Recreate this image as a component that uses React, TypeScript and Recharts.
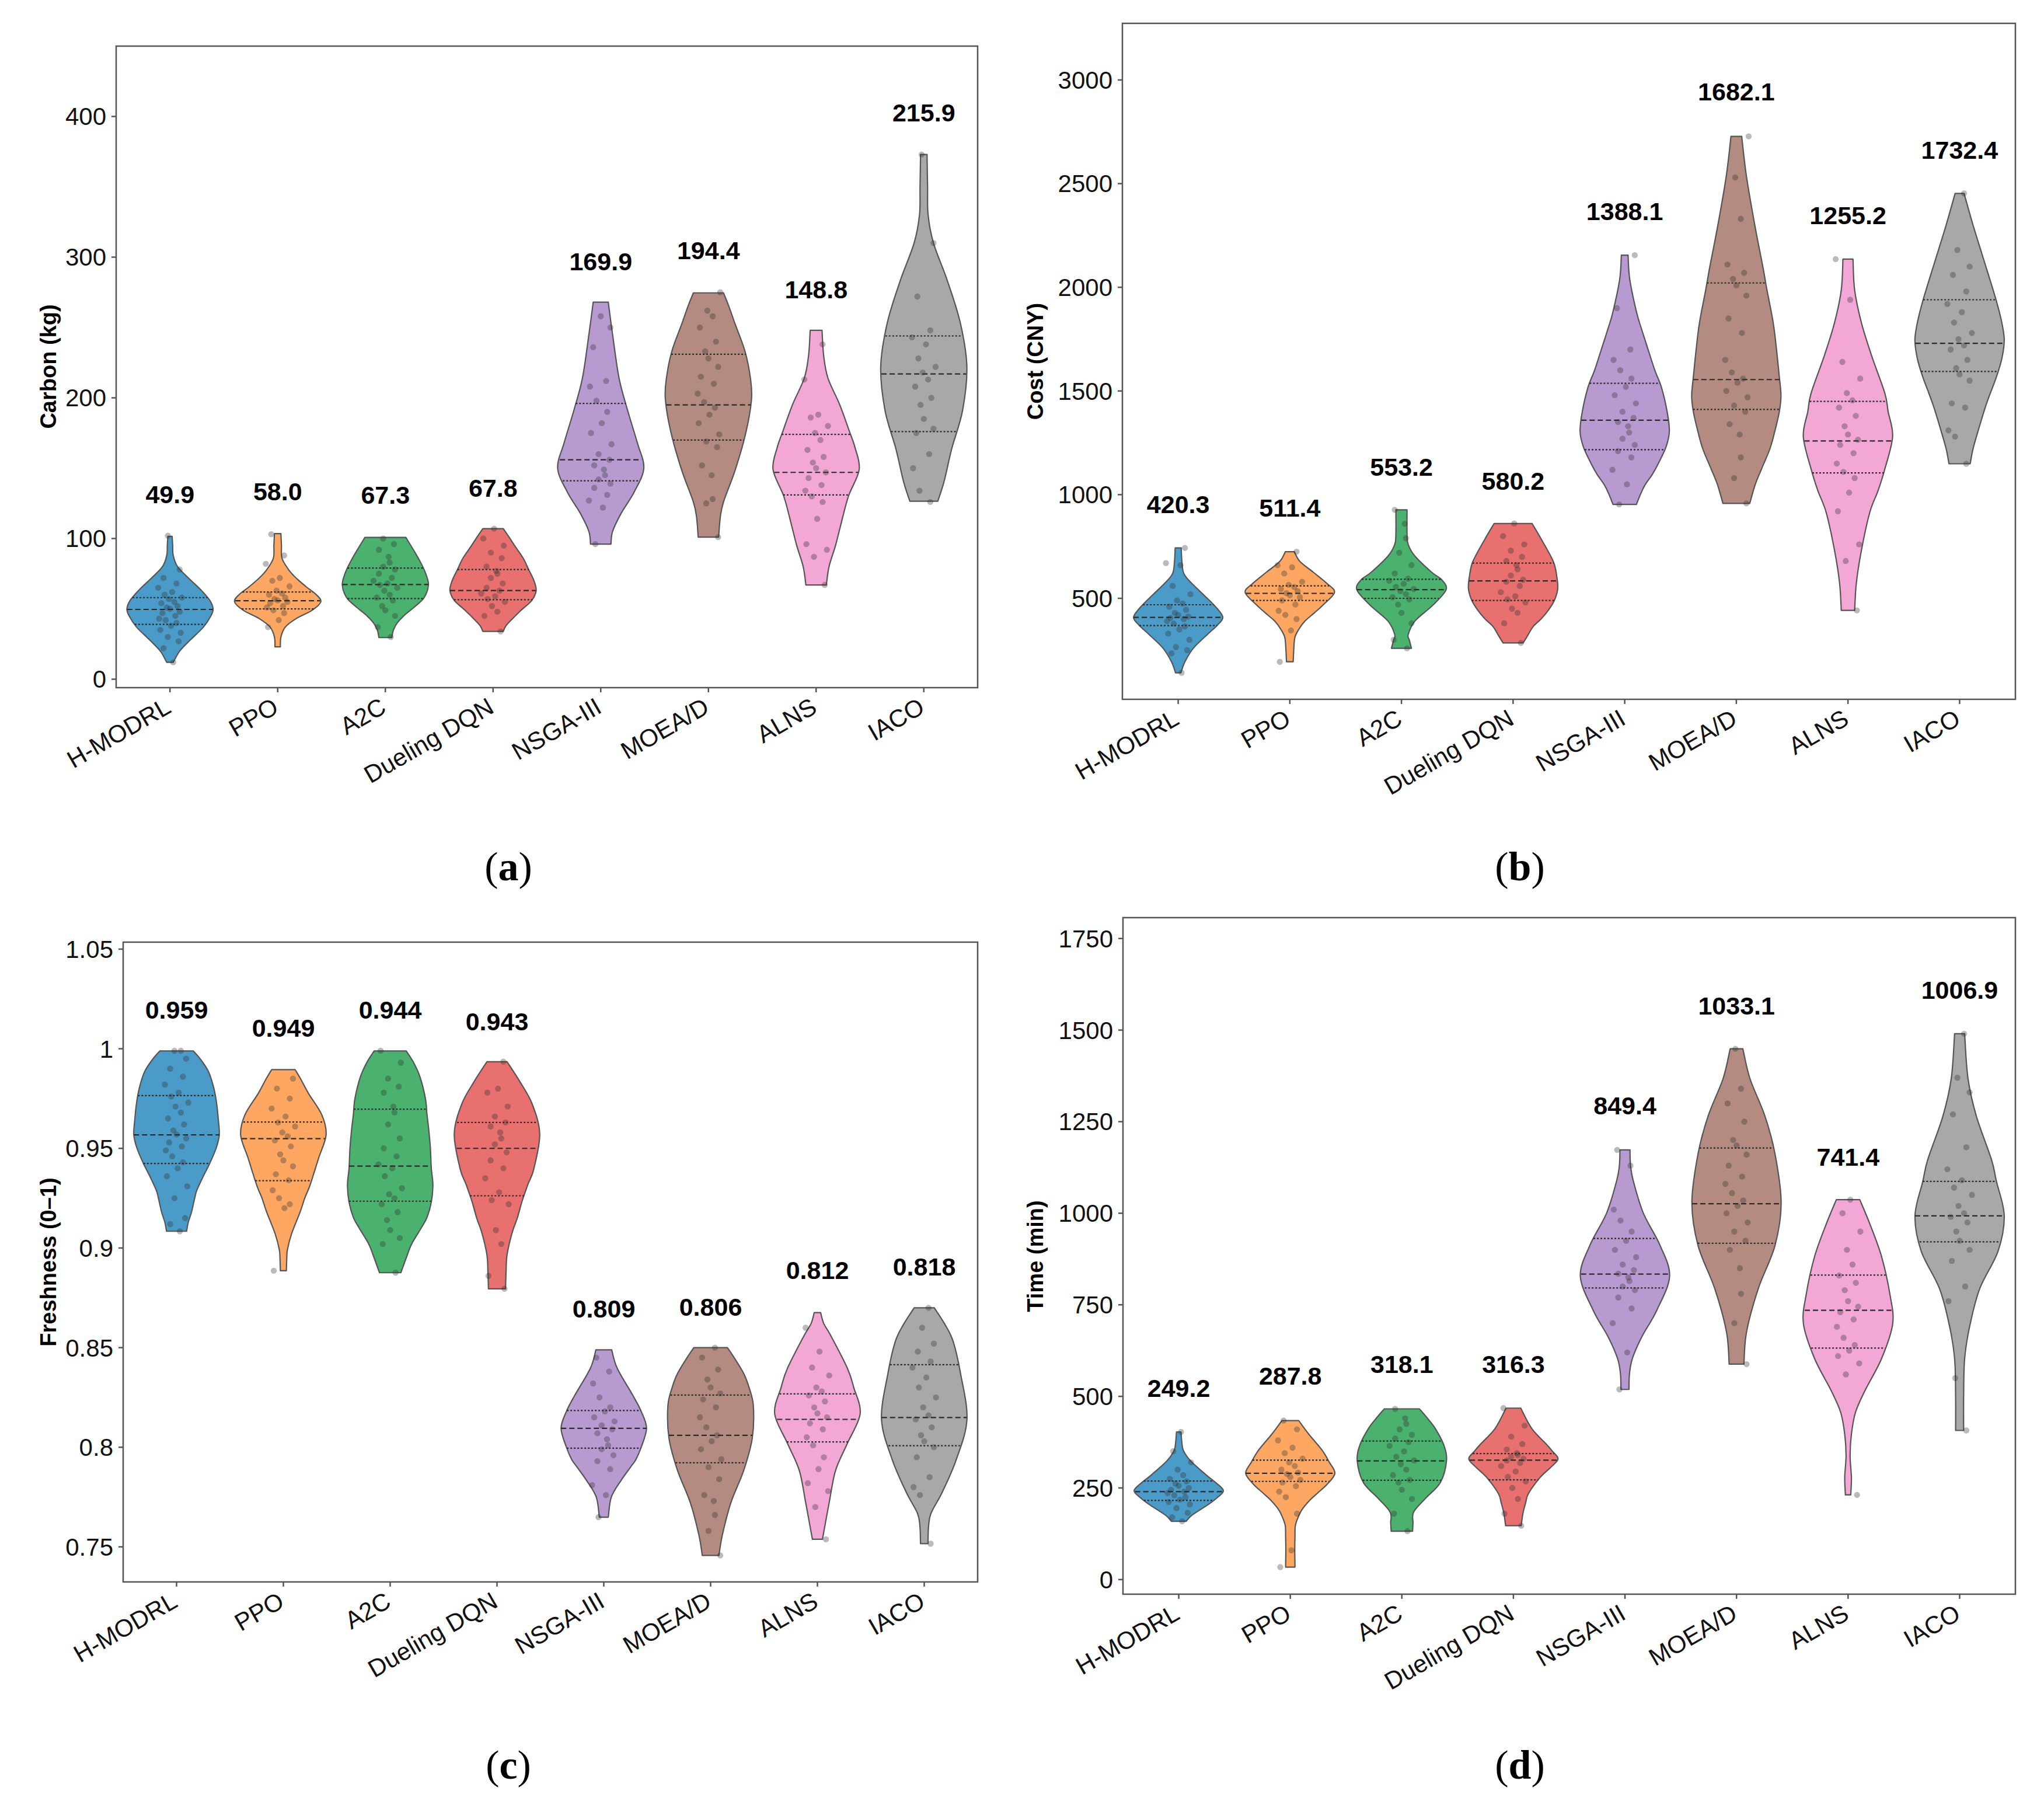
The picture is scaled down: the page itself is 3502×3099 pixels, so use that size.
import React from 'react'
import { ScatterChart, Scatter, XAxis, YAxis, ReferenceArea } from 'recharts'

const CATEGORIES = ['H-MODRL', 'PPO', 'A2C', 'Dueling DQN', 'NSGA-III', 'MOEA/D', 'ALNS', 'IACO']
const COLORS = ['#4b9bc8', '#fda762', '#4ab26e', '#e8706f', '#b79ad0', '#b48b80', '#f2a7d4', '#a8a8a8']
const X_TICKS = [0, 1, 2, 3, 4, 5, 6, 7]

// fixed strip-plot offsets (category units), reused per violin
const JITTER = [0.03, -0.06, 0.08, -0.02, 0.1, -0.09, 0.01, 0.06, -0.04, -0.1, 0.05, -0.07, 0.09, 0.0,
  -0.03, 0.07, -0.08, 0.04, -0.01, 0.11, -0.05, 0.02, -0.11, 0.06, -0.06, 0.09, -0.02, 0.04]

// ---------- (a) carbon ----------
const carbonTicks = [0, 100, 200, 300, 400]
const carbonDomain = [-6, 450]
// [value, half width] from bottom to top
const carbonProfiles = [
  [[12, 0.03], [20, 0.09], [28, 0.19], [37, 0.31], [45, 0.38], [50, 0.4], [56, 0.37], [64, 0.28], [72, 0.17], [80, 0.07], [88, 0.03], [95, 0.025], [101.5, 0.02]],
  [[23, 0.025], [30, 0.03], [37, 0.07], [43, 0.17], [49, 0.32], [55, 0.4], [60, 0.36], [66, 0.26], [72, 0.17], [78, 0.1], [86, 0.04], [95, 0.035], [103.5, 0.03]],
  [[29.6, 0.06], [35, 0.075], [40, 0.11], [45, 0.17], [52, 0.28], [58, 0.36], [67, 0.4], [76, 0.37], [84, 0.32], [92, 0.26], [100.8, 0.19]],
  [[34, 0.095], [38, 0.12], [43, 0.18], [49, 0.26], [56, 0.36], [63, 0.4], [70, 0.38], [78, 0.33], [86, 0.28], [95, 0.2], [102, 0.14], [107, 0.095]],
  [[96, 0.095], [105, 0.11], [118, 0.19], [133, 0.31], [150, 0.4], [168, 0.34], [191, 0.25], [214, 0.17], [245, 0.11], [268, 0.07]],
  [[101, 0.095], [115, 0.11], [126, 0.14], [149, 0.25], [176, 0.35], [199, 0.4], [214, 0.39], [233, 0.34], [252, 0.25], [265, 0.19], [274.6, 0.14]],
  [[67, 0.095], [80, 0.12], [95, 0.18], [110, 0.23], [130, 0.3], [149, 0.4], [165, 0.36], [176, 0.31], [195, 0.22], [214, 0.11], [230, 0.07], [248, 0.055]],
  [[126.5, 0.13], [141, 0.19], [164, 0.26], [191, 0.36], [222, 0.4], [253, 0.34], [283, 0.22], [310, 0.09], [330, 0.04], [350, 0.035], [373, 0.03]],
]
const carbonQuartiles = [[39, 49.6, 58], [50, 55.8, 62], [57.3, 67.3, 79], [56.5, 63, 78], [141, 156, 196], [170, 195, 231], [131, 147, 174], [176, 217, 244]]
const carbonMeans = ['49.9', '58.0', '67.3', '67.8', '169.9', '194.4', '148.8', '215.9']
const carbonLabelY = [131.5, 133.5, 130.8, 136, 297, 304.6, 277, 402.7]
const carbonPoints = [
  [12, 22, 27, 30, 33, 35, 38, 40, 42, 43, 45, 47, 48, 50, 51, 52, 54, 55, 57, 58, 60, 62, 65, 68, 72, 78, 102],
  [37, 42, 47, 49, 51, 52, 54, 55, 56, 57, 58, 60, 61, 63, 66, 70, 72, 82, 88, 103],
  [30, 37, 45, 49, 52, 56, 58, 60, 63, 65, 67, 68, 70, 72, 75, 78, 80, 83, 87, 92, 96, 100],
  [34, 45, 48, 52, 55, 57, 59, 61, 63, 65, 68, 72, 75, 77, 80, 86, 90, 95, 100, 107],
  [96, 122, 127, 131, 136, 139, 142, 145, 149, 152, 156, 160, 167, 175, 182, 190, 198, 208, 212, 236, 250, 258],
  [101, 125, 128, 145, 152, 165, 169, 174, 182, 188, 193, 197, 203, 210, 215, 222, 228, 233, 240, 250, 258, 262, 275],
  [67, 87, 92, 96, 114, 126, 130, 134, 138, 143, 147, 150, 154, 158, 163, 170, 175, 180, 186, 188, 213, 238],
  [126, 134, 150, 160, 175, 178, 185, 195, 200, 208, 213, 218, 222, 228, 238, 243, 248, 272, 310, 373],
]

// ---------- (b) cost ----------
const costTicks = [500, 1000, 1500, 2000, 2500, 3000]
const costDomain = [13, 3273]
const costProfiles = [
  [[141, 0.024], [194, 0.06], [259, 0.135], [325, 0.26], [370, 0.35], [408, 0.4], [450, 0.35], [495, 0.27], [573, 0.12], [620, 0.05], [680, 0.033], [743, 0.027]],
  [[194, 0.03], [250, 0.035], [311, 0.045], [350, 0.08], [390, 0.135], [430, 0.22], [469, 0.3], [529, 0.4], [573, 0.33], [626, 0.21], [678, 0.09], [725, 0.04]],
  [[259, 0.09], [300, 0.07], [325, 0.06], [390, 0.12], [469, 0.285], [542, 0.4], [590, 0.36], [626, 0.27], [704, 0.12], [760, 0.06], [809, 0.05], [927, 0.05]],
  [[285, 0.09], [320, 0.13], [364, 0.18], [400, 0.25], [442, 0.315], [490, 0.37], [547, 0.4], [610, 0.39], [678, 0.36], [783, 0.255], [861, 0.17]],
  [[953, 0.105], [1000, 0.14], [1045, 0.18], [1100, 0.25], [1149, 0.3], [1230, 0.37], [1306, 0.4], [1400, 0.38], [1516, 0.33], [1600, 0.27], [1699, 0.21], [1800, 0.15], [1882, 0.105], [2039, 0.045], [2155, 0.03]],
  [[958, 0.12], [1050, 0.17], [1123, 0.225], [1220, 0.3], [1306, 0.345], [1400, 0.385], [1477, 0.4], [1568, 0.385], [1700, 0.36], [1830, 0.33], [2000, 0.27], [2092, 0.24], [2301, 0.165], [2537, 0.09], [2728, 0.048]],
  [[442, 0.06], [573, 0.075], [730, 0.12], [914, 0.195], [1020, 0.27], [1123, 0.33], [1280, 0.4], [1400, 0.36], [1490, 0.33], [1673, 0.21], [1830, 0.12], [1987, 0.06], [2136, 0.045]],
  [[1149, 0.095], [1220, 0.12], [1306, 0.165], [1437, 0.24], [1568, 0.33], [1660, 0.38], [1751, 0.4], [1850, 0.37], [1961, 0.315], [2144, 0.21], [2301, 0.12], [2453, 0.04]],
]
const costQuartiles = [[369, 408, 469], [490, 524, 560], [500, 542, 592], [490, 584, 670], [1217, 1359, 1537], [1411, 1555, 2021], [1105, 1259, 1450], [1594, 1730, 1940]]
const costMeans = ['420.3', '511.4', '553.2', '580.2', '1388.1', '1682.1', '1255.2', '1732.4']
const costLabelY = [953, 935, 1134, 1065, 2367, 2943, 2348, 2662]
const costPoints = [
  [141, 235, 250, 265, 300, 330, 350, 365, 378, 390, 400, 405, 412, 420, 430, 445, 460, 475, 490, 520, 560, 660, 670, 743],
  [194, 345, 400, 420, 440, 470, 490, 505, 515, 525, 535, 545, 555, 565, 580, 620, 650, 660, 725],
  [259, 300, 380, 430, 470, 495, 505, 520, 535, 545, 555, 570, 585, 595, 620, 660, 720, 790, 860, 927],
  [285, 380, 430, 450, 480, 495, 510, 530, 560, 580, 590, 610, 640, 660, 680, 700, 730, 760, 800, 861],
  [953, 1050, 1120, 1180, 1210, 1240, 1270, 1300, 1330, 1350, 1370, 1400, 1440, 1480, 1520, 1560, 1600, 1650, 1700, 1900, 2155],
  [958, 1080, 1180, 1290, 1340, 1400, 1430, 1470, 1500, 1540, 1560, 1590, 1650, 1780, 1850, 1960, 2010, 2040, 2070, 2110, 2330, 2530, 2728],
  [442, 680, 760, 920, 1010, 1080, 1110, 1150, 1200, 1240, 1265, 1290, 1330, 1380, 1420, 1455, 1490, 1560, 1640, 1940, 2136],
  [1149, 1280, 1310, 1420, 1440, 1550, 1580, 1610, 1650, 1700, 1720, 1750, 1780, 1830, 1880, 1920, 1980, 2060, 2100, 2180, 2453],
]

// ---------- (c) freshness ----------
const freshTicks = [0.75, 0.8, 0.85, 0.9, 0.95, 1, 1.05]
const freshDomain = [0.7324, 1.0535]
const freshProfiles = [
  [[0.9084, 0.094], [0.913, 0.11], [0.918, 0.14], [0.925, 0.17], [0.929, 0.19], [0.936, 0.25], [0.9424, 0.31], [0.95, 0.37], [0.9568, 0.4], [0.965, 0.39], [0.9722, 0.376], [0.98, 0.35], [0.9884, 0.3], [0.995, 0.22], [0.9989, 0.157]],
  [[0.8886, 0.028], [0.895, 0.032], [0.8992, 0.038], [0.9073, 0.078], [0.9181, 0.157], [0.925, 0.2], [0.9316, 0.25], [0.9451, 0.33], [0.9568, 0.4], [0.9668, 0.36], [0.9776, 0.235], [0.985, 0.16], [0.9895, 0.11]],
  [[0.8876, 0.1], [0.895, 0.15], [0.9019, 0.2], [0.91, 0.29], [0.9154, 0.345], [0.923, 0.385], [0.9316, 0.4], [0.94, 0.385], [0.9505, 0.376], [0.96, 0.36], [0.9668, 0.345], [0.975, 0.33], [0.9857, 0.28], [0.993, 0.22], [0.9989, 0.15]],
  [[0.8795, 0.08], [0.888, 0.085], [0.8965, 0.094], [0.9073, 0.14], [0.915, 0.19], [0.9235, 0.235], [0.932, 0.29], [0.9397, 0.345], [0.9573, 0.4], [0.9722, 0.33], [0.983, 0.22], [0.9935, 0.094]],
  [[0.7649, 0.042], [0.7749, 0.07], [0.783, 0.157], [0.79, 0.25], [0.7938, 0.3], [0.8, 0.35], [0.8095, 0.4], [0.818, 0.35], [0.8262, 0.27], [0.8397, 0.125], [0.8489, 0.074]],
  [[0.7457, 0.078], [0.756, 0.11], [0.7722, 0.19], [0.7884, 0.31], [0.8046, 0.39], [0.8208, 0.4], [0.83, 0.36], [0.837, 0.31], [0.845, 0.22], [0.85, 0.157]],
  [[0.7538, 0.047], [0.7722, 0.11], [0.7884, 0.17], [0.8019, 0.28], [0.8168, 0.4], [0.83, 0.34], [0.8397, 0.28], [0.856, 0.125], [0.862, 0.06], [0.8676, 0.03]],
  [[0.7516, 0.035], [0.76, 0.04], [0.7668, 0.063], [0.7776, 0.17], [0.7938, 0.3], [0.814, 0.4], [0.837, 0.34], [0.8532, 0.27], [0.862, 0.19], [0.87, 0.094]],
]
const freshQuartiles = [[0.9424, 0.9568, 0.9765], [0.9338, 0.9549, 0.9632], [0.9235, 0.9411, 0.9697], [0.9262, 0.95, 0.963], [0.7995, 0.8095, 0.8184], [0.7922, 0.806, 0.8262], [0.8027, 0.814, 0.8268], [0.8008, 0.8149, 0.8414]]
const freshMeans = ['0.959', '0.949', '0.944', '0.943', '0.809', '0.806', '0.812', '0.818']
const freshLabelY = [1.0195, 1.0105, 1.0195, 1.0138, 0.8695, 0.8703, 0.8889, 0.8905]
const freshPoints = [
  [0.9084, 0.912, 0.915, 0.925, 0.931, 0.936, 0.94, 0.943, 0.946, 0.949, 0.951, 0.953, 0.955, 0.957, 0.959, 0.962, 0.965, 0.968, 0.971, 0.973, 0.976, 0.978, 0.982, 0.986, 0.99, 0.995, 0.999, 0.999],
  [0.8886, 0.92, 0.922, 0.925, 0.929, 0.934, 0.937, 0.941, 0.944, 0.947, 0.951, 0.954, 0.956, 0.958, 0.961, 0.963, 0.966, 0.97, 0.975, 0.98, 0.985],
  [0.8876, 0.902, 0.905, 0.909, 0.914, 0.918, 0.922, 0.925, 0.927, 0.93, 0.936, 0.94, 0.942, 0.946, 0.95, 0.955, 0.962, 0.968, 0.971, 0.978, 0.981, 0.985, 0.993, 0.999],
  [0.8795, 0.886, 0.902, 0.909, 0.922, 0.924, 0.928, 0.935, 0.94, 0.944, 0.948, 0.952, 0.955, 0.958, 0.961, 0.963, 0.966, 0.971, 0.978, 0.98, 0.9935],
  [0.7649, 0.776, 0.781, 0.789, 0.793, 0.796, 0.799, 0.801, 0.804, 0.807, 0.809, 0.811, 0.813, 0.815, 0.818, 0.82, 0.825, 0.832, 0.838, 0.845],
  [0.7457, 0.758, 0.766, 0.773, 0.776, 0.784, 0.79, 0.794, 0.799, 0.803, 0.806, 0.81, 0.815, 0.82, 0.824, 0.827, 0.83, 0.834, 0.839, 0.845, 0.85],
  [0.7538, 0.77, 0.778, 0.782, 0.789, 0.795, 0.801, 0.805, 0.809, 0.812, 0.815, 0.817, 0.82, 0.823, 0.826, 0.828, 0.83, 0.836, 0.84, 0.848, 0.86],
  [0.7516, 0.776, 0.78, 0.785, 0.795, 0.8, 0.803, 0.806, 0.81, 0.814, 0.816, 0.82, 0.825, 0.83, 0.835, 0.84, 0.843, 0.848, 0.852, 0.86, 0.87],
]

// ---------- (d) time ----------
const timeTicks = [0, 250, 500, 750, 1000, 1250, 1500, 1750]
const timeDomain = [-40, 1807]
const timeProfiles = [
  [[159, 0.066], [176, 0.12], [206, 0.27], [225, 0.35], [243, 0.4], [265, 0.33], [287, 0.24], [324, 0.105], [350, 0.045], [368, 0.03], [403, 0.02]],
  [[34, 0.042], [80, 0.04], [120, 0.042], [147, 0.045], [170, 0.07], [191, 0.105], [215, 0.17], [235, 0.24], [260, 0.33], [290, 0.4], [320, 0.35], [353, 0.285], [397, 0.165], [434, 0.075]],
  [[132, 0.096], [155, 0.1], [184, 0.105], [221, 0.21], [265, 0.345], [324, 0.4], [368, 0.375], [412, 0.3], [440, 0.23], [466, 0.157]],
  [[147, 0.07], [180, 0.085], [210, 0.11], [235, 0.135], [279, 0.24], [305, 0.33], [329, 0.4], [350, 0.35], [368, 0.3], [412, 0.165], [468, 0.066]],
  [[519, 0.036], [560, 0.04], [603, 0.066], [662, 0.15], [735, 0.285], [828, 0.4], [912, 0.315], [1000, 0.165], [1088, 0.075], [1130, 0.05], [1173, 0.045]],
  [[588, 0.066], [676, 0.09], [794, 0.195], [912, 0.345], [1029, 0.4], [1162, 0.345], [1265, 0.255], [1368, 0.12], [1449, 0.057]],
  [[231, 0.024], [279, 0.03], [338, 0.018], [397, 0.03], [456, 0.066], [515, 0.15], [603, 0.3], [698, 0.4], [779, 0.375], [882, 0.3], [971, 0.195], [1037, 0.105]],
  [[407, 0.036], [500, 0.036], [603, 0.045], [691, 0.09], [794, 0.18], [897, 0.345], [993, 0.4], [1087, 0.33], [1147, 0.285], [1265, 0.15], [1368, 0.075], [1490, 0.045]],
]
const timeQuartiles = [[216, 240, 269], [268, 290, 326], [271, 324, 378], [272, 326, 344], [796, 834, 931], [918, 1026, 1178], [632, 735, 831], [922, 993, 1087]]
const timeMeans = ['249.2', '287.8', '318.1', '316.3', '849.4', '1033.1', '741.4', '1006.9']
const timeLabelY = [522, 556, 588, 588, 1294, 1566, 1154, 1609]
const timePoints = [
  [159, 170, 182, 195, 205, 212, 218, 225, 230, 236, 240, 245, 250, 256, 262, 268, 275, 285, 300, 320, 350, 403],
  [34, 80, 180, 225, 240, 255, 265, 272, 280, 288, 292, 300, 310, 320, 330, 345, 360, 380, 410, 434],
  [132, 180, 220, 245, 265, 272, 285, 300, 315, 325, 335, 350, 365, 375, 385, 395, 410, 425, 440, 466],
  [147, 180, 220, 250, 268, 280, 295, 310, 318, 325, 330, 335, 340, 345, 355, 370, 390, 420, 468],
  [519, 620, 700, 740, 770, 790, 800, 815, 825, 835, 845, 860, 880, 900, 925, 950, 980, 1010, 1130, 1173],
  [588, 700, 780, 850, 900, 925, 950, 975, 1000, 1020, 1035, 1055, 1080, 1100, 1130, 1160, 1185, 1200, 1250, 1300, 1340, 1449],
  [231, 560, 590, 610, 625, 640, 660, 690, 710, 730, 745, 760, 790, 810, 830, 860, 900, 950, 1000, 1037],
  [407, 550, 760, 800, 870, 900, 925, 950, 975, 990, 1000, 1020, 1050, 1070, 1090, 1120, 1180, 1270, 1330, 1370, 1490],
]

const SANS = '"Liberation Sans", Arial, Helvetica, sans-serif'
const SERIF = '"Liberation Serif", "Times New Roman", serif'

function halfWidthAt(profile: number[][], v: number) {
  for (let k = 0; k < profile.length - 1; k++) {
    const [v0, w0] = profile[k]
    const [v1, w1] = profile[k + 1]
    if (v >= v0 && v <= v1) return w0 + ((w1 - w0) * (v - v0)) / (v1 - v0)
  }
  return profile[0][1]
}

function catmull(pts: { x: number; y: number }[]) {
  let d = ''
  for (let i = 0; i < pts.length - 1; i++) {
    const p0 = pts[i - 1] || pts[i]
    const p1 = pts[i]
    const p2 = pts[i + 1]
    const p3 = pts[i + 2] || p2
    const c1x = p1.x + (p2.x - p0.x) / 6
    const c1y = p1.y + (p2.y - p0.y) / 6
    const c2x = p2.x - (p3.x - p1.x) / 6
    const c2y = p2.y - (p3.y - p1.y) / 6
    d += ` C${c1x},${c1y} ${c2x},${c2y} ${p2.x},${p2.y}`
  }
  return d
}

const violinLine = (fill: string) => (props: any) => {
  const pts = props.points as { x: number; y: number }[]
  const n = pts.length / 2
  const right = pts.slice(0, n)
  const left = pts.slice(n)
  const d = `M${right[0].x},${right[0].y}` + catmull(right) + ` L${left[0].x},${left[0].y}` + catmull(left) + ' Z'
  return <path d={d} fill={fill} stroke="#555" strokeWidth={2.2} strokeLinejoin="round" />
}

const hidden = () => <g />

const dotShape = (p: any) => <circle cx={p.cx} cy={p.cy} r={5.2} fill="#2e2e2e" fillOpacity={0.33} />

const labelShape = (p: any) => (
  <text x={p.cx} y={p.cy} textAnchor="middle" dominantBaseline="central" fontFamily={SANS} fontWeight={700} fontSize={43} fill="#000">
    {p.payload.t}
  </text>
)

const XTick = (p: any) => {
  const ax = p.x - 11
  const ay = p.y + 5
  return (
    <text x={ax} y={ay} dy="0.72em" transform={`rotate(-30 ${ax} ${ay})`} textAnchor="end" fontFamily={SANS} fontSize={42} fill="#111">
      {CATEGORIES[p.payload.value]}
    </text>
  )
}

type PanelCfg = {
  box: { left: number; top: number; width: number; height: number }
  margin: { top: number; right: number; bottom: number; left: number }
  domain: number[]
  ticks: number[]
  profiles: number[][][]
  quartiles: number[][]
  means: string[]
  labelY: number[]
  points: number[][]
}

function Panel({ cfg }: { cfg: PanelCfg }) {
  const violins = cfg.profiles.map((p, i) => [
    ...p.map(([v, w]) => ({ x: i + w, y: v })),
    ...p.slice().reverse().map(([v, w]) => ({ x: i - w, y: v })),
  ])
  const qLines = cfg.quartiles.flatMap((q, i) =>
    q.map((v, k) => {
      const hw = halfWidthAt(cfg.profiles[i], v)
      return { key: `q${i}-${k}`, median: k === 1, data: [{ x: i - hw, y: v }, { x: i + hw, y: v }] }
    })
  )
  const dots = cfg.points.flatMap((vals, i) =>
    vals.map((v, k) => ({ x: i + JITTER[(k + i * 5) % JITTER.length], y: v }))
  )
  const labels = cfg.means.map((t, i) => ({ x: i, y: cfg.labelY[i], t }))

  return (
    <div style={{ position: 'absolute', left: cfg.box.left, top: cfg.box.top }}>
      <ScatterChart width={cfg.box.width} height={cfg.box.height} margin={cfg.margin}>
        <XAxis
          type="number"
          dataKey="x"
          domain={[-0.5, 7.5]}
          ticks={X_TICKS}
          interval={0}
          allowDataOverflow
          height={200}
          axisLine={false}
          tickSize={8}
          tickLine={{ stroke: '#555', strokeWidth: 2.5 }}
          tick={(p: any) => <XTick {...p} />}
        />
        <YAxis
          type="number"
          dataKey="y"
          domain={cfg.domain}
          ticks={cfg.ticks}
          interval={0}
          allowDataOverflow
          width={120}
          axisLine={false}
          tickSize={8}
          tickMargin={9}
          tickLine={{ stroke: '#555', strokeWidth: 2.5 }}
          tick={{ fontFamily: SANS, fontSize: 42, fill: '#111' }}
        />
        {violins.map((data, i) => (
          <Scatter key={`v${i}`} data={data} line={violinLine(COLORS[i])} lineType="joint" shape={hidden} isAnimationActive={false} />
        ))}
        {qLines.map((q) => (
          <Scatter
            key={q.key}
            data={q.data}
            line={{ stroke: '#2a2a2a', strokeWidth: 2.2, strokeDasharray: q.median ? '9 5' : '3 3' }}
            lineType="joint"
            shape={hidden}
            isAnimationActive={false}
          />
        ))}
        <Scatter data={dots} shape={dotShape} isAnimationActive={false} />
        <Scatter data={labels} shape={labelShape} isAnimationActive={false} />
        <ReferenceArea x1={-0.5} x2={7.5} y1={cfg.domain[0]} y2={cfg.domain[1]} fill="none" stroke="#555" strokeWidth={2.5} />
      </ScatterChart>
    </div>
  )
}

const panels: PanelCfg[] = [
  {
    box: { left: 0, top: 0, width: 1720, height: 1420 },
    margin: { top: 79, right: 45, bottom: 42, left: 79 },
    domain: carbonDomain, ticks: carbonTicks, profiles: carbonProfiles, quartiles: carbonQuartiles,
    means: carbonMeans, labelY: carbonLabelY, points: carbonPoints,
  },
  {
    box: { left: 1740, top: 0, width: 1762, height: 1420 },
    margin: { top: 40, right: 49, bottom: 22, left: 63 },
    domain: costDomain, ticks: costTicks, profiles: costProfiles, quartiles: costQuartiles,
    means: costMeans, labelY: costLabelY, points: costPoints,
  },
  {
    box: { left: 0, top: 1560, width: 1720, height: 1420 },
    margin: { top: 54, right: 45, bottom: 70, left: 91 },
    domain: freshDomain, ticks: freshTicks, profiles: freshProfiles, quartiles: freshQuartiles,
    means: freshMeans, labelY: freshLabelY, points: freshPoints,
  },
  {
    box: { left: 1740, top: 1540, width: 1762, height: 1420 },
    margin: { top: 32, right: 49, bottom: 29, left: 64 },
    domain: timeDomain, ticks: timeTicks, profiles: timeProfiles, quartiles: timeQuartiles,
    means: timeMeans, labelY: timeLabelY, points: timePoints,
  },
]

const yTitles = [
  { text: 'Carbon (kg)', x: 96, y: 628 },
  { text: 'Cost (CNY)', x: 1787, y: 619 },
  { text: 'Freshness (0–1)', x: 96, y: 2162 },
  { text: 'Time (min)', x: 1787, y: 2152 },
]
const captions = [
  { letter: 'a', x: 871, y: 1508 },
  { letter: 'b', x: 2604, y: 1508 },
  { letter: 'c', x: 871, y: 3047 },
  { letter: 'd', x: 2604, y: 3047 },
]

export default function App() {
  return (
    <div style={{ position: 'absolute', left: 0, top: 0, width: 3502, height: 3099, background: '#fff', overflow: 'hidden' }}>
      {panels.map((cfg, i) => (
        <Panel key={i} cfg={cfg} />
      ))}
      <svg width={3502} height={3099} style={{ position: 'absolute', left: 0, top: 0, pointerEvents: 'none' }}>
        {yTitles.map((t) => (
          <text key={t.text} x={t.x} y={t.y} transform={`rotate(-90 ${t.x} ${t.y})`} textAnchor="middle" fontFamily={SANS} fontWeight={700} fontSize={38} fill="#000">
            {t.text}
          </text>
        ))}
        {captions.map((c) => (
          <text key={c.letter} x={c.x} y={c.y} textAnchor="middle" fontFamily={SERIF} fontSize={70} fill="#000">
            (<tspan fontWeight={700}>{c.letter}</tspan>)
          </text>
        ))}
      </svg>
    </div>
  )
}
